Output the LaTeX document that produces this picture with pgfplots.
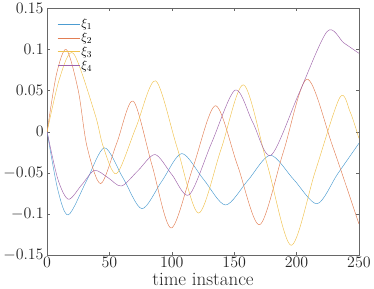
\RequirePackage{fix-cm}
\documentclass[border=0pt]{standalone}
\usepackage{pgfplots}
\pgfplotsset{compat=1.18}
\definecolor{mblue}{rgb}{0,0.447,0.741}
\definecolor{morange}{rgb}{0.85,0.325,0.098}
\definecolor{myellow}{rgb}{0.929,0.694,0.125}
\definecolor{mpurple}{rgb}{0.494,0.184,0.556}
\definecolor{axgray}{rgb}{0.15,0.15,0.15}
\colorlet{c1}{mblue!70}
\colorlet{c2}{morange!75}
\colorlet{c3}{myellow!80}
\colorlet{c4}{mpurple!75}

\begin{document}
\begin{tikzpicture}
\begin{axis}[
    scale only axis,
    width=311bp, height=246bp,
    xmin=0, xmax=250, ymin=-0.15, ymax=0.15,
    xtick={0,50,100,150,200,250},
    ytick={-0.15,-0.1,-0.05,0,0.05,0.1,0.15},
    scaled y ticks=false,
    yticklabel style={/pgf/number format/fixed, /pgf/number format/precision=2},
    tick align=inside, tick pos=both,
    major tick length=3bp,
    axis line style={axgray!70, line width=0.4pt},
    tick style={axgray!70, line width=0.4pt},
    tick label style={font=\fontsize{16}{16}\selectfont, text=axgray},
    xticklabel style={yshift=1bp},
    xlabel={time instance},
    xlabel style={font=\fontsize{19}{19}\selectfont, text=axgray, yshift=2bp},
    legend cell align=left,
    legend style={draw=none, fill=none, at={(rel axis cs:0.032,0.965)}, anchor=north west,
        inner sep=0pt, font=\fontsize{13}{13}\selectfont, row sep=0pt,
        nodes={inner sep=1.6bp}},
    every axis plot/.append style={line width=0.45pt, smooth},
]

\addplot[c1, forget plot] coordinates {
    (0,0) (8.5,-0.07) (17,-0.101) (31.5,-0.060) (46,-0.0195) (61,-0.0565)
    (76,-0.0935) (92,-0.060) (108,-0.0265) (125.5,-0.058) (143,-0.089)
    (161,-0.059) (179,-0.0285) (197.7,-0.058) (216.5,-0.0875) (233,-0.051) (250,-0.014)
};

\addplot[morange!75, forget plot] coordinates {
    (0,0) (7.5,0.07) (15.5,0.100) (25,0.05) (32,-0.018) (43,-0.063) (56,-0.013)
    (69,0.0374) (84,-0.040) (99.4,-0.117) (117,-0.043) (135,0.0317)
    (152.7,-0.041) (170.4,-0.113) (189.4,-0.0245) (208.4,0.064) (229,-0.018) (250,-0.112)
};

\addplot[c3, forget plot] coordinates {
    (0,0) (10,0.065) (21,0.0955) (38.3,0.022) (45,-0.018) (55.7,-0.0508) (71.3,0.0056)
    (87,0.062) (104,-0.018) (121.4,-0.0988) (139.5,-0.021) (157.6,0.057)
    (176.6,-0.0405) (195.6,-0.138) (215,-0.048) (234.7,0.0418) (243,0.024) (250,-0.008)
};

\addplot[c4, forget plot] coordinates {
    (0,0) (8.5,-0.057) (17,-0.082) (27.5,-0.065) (38,-0.047) (49,-0.056)
    (59.7,-0.0659) (73,-0.047) (86.6,-0.0277) (100,-0.052) (114,-0.0765)
    (132,-0.013) (150.8,0.0508) (165,0.011) (179.5,-0.0285) (202,0.047)
    (224.5,0.122) (238,0.108) (250,0.0955)
};

\addlegendimage{legend image code/.code={\draw[c1, line width=0.45pt] (0bp,0bp) -- (22bp,0bp);}}
\addlegendentry{$\xi_1$}
\addlegendimage{legend image code/.code={\draw[c2, line width=0.45pt] (0bp,0bp) -- (22bp,0bp);}}
\addlegendentry{$\xi_2$}
\addlegendimage{legend image code/.code={\draw[c3, line width=0.45pt] (0bp,0bp) -- (22bp,0bp);}}
\addlegendentry{$\xi_3$}
\addlegendimage{legend image code/.code={\draw[c4, line width=0.45pt] (0bp,0bp) -- (22bp,0bp);}}
\addlegendentry{$\xi_4$}

\end{axis}
\end{tikzpicture}
\end{document}
